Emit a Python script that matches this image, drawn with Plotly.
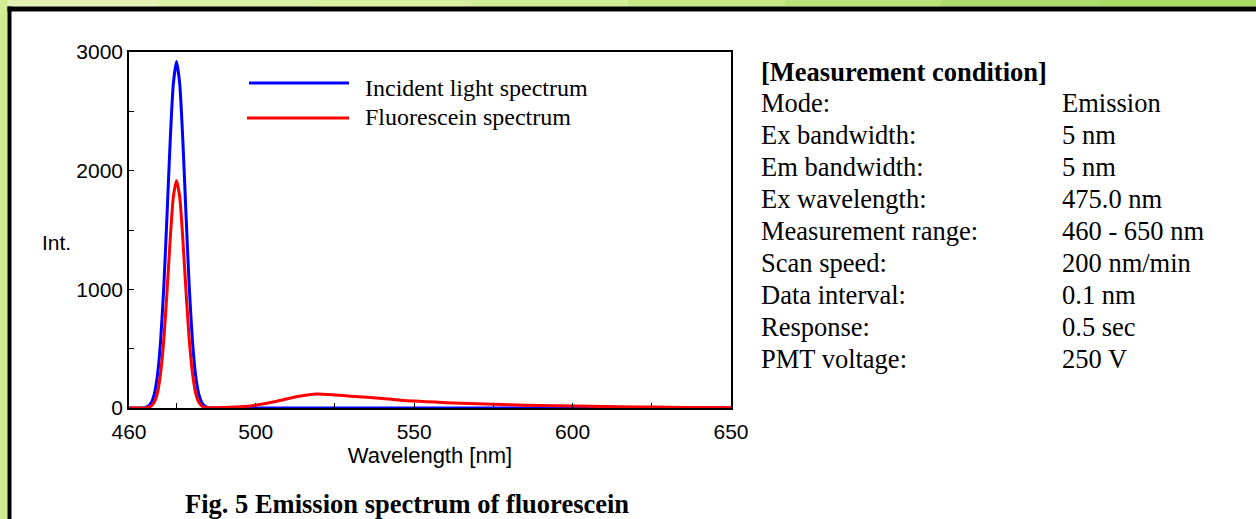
import plotly.graph_objects as go

# --- data (wavelength in nm, intensity) ---
incident_nm = [460, 464, 465, 466, 467, 468, 469, 470, 471, 472, 473, 474, 475,
               476, 477, 478, 479, 480, 481, 482, 483, 484, 485, 490, 550, 600, 650]
incident_int = [0, 0, 3, 15, 45, 120, 280, 575, 1030, 1625, 2250, 2735, 2920,
                2735, 2250, 1625, 1030, 575, 280, 120, 45, 15, 3, 0, 0, 0, 0]

fluor_nm = [460, 465, 466, 467, 468, 469, 470, 471, 472, 473, 474, 475, 476, 477,
            478, 479, 480, 481, 482, 483, 484, 486, 490, 495, 500, 505, 510, 515,
            519, 525, 530, 540, 550, 560, 570, 580, 590, 600, 610, 620, 630, 640, 650]
fluor_int = [0, 0, 5, 16, 50, 130, 300, 580, 980, 1420, 1780, 1915, 1780, 1420,
             980, 580, 300, 130, 50, 16, 5, 2, 4, 10, 24, 48, 78, 105,
             118, 110, 100, 80, 58, 45, 35, 27, 21, 16, 12, 9, 6, 4, 3]

x_ticks = [460, 500, 550, 600, 650]
x_minor = [475, 500, 525, 550, 575, 600, 625]
y_ticks = [0, 1000, 2000, 3000]

legend_names = ["Incident light spectrum", "Fluorescein spectrum"]
condition_labels = ["Mode:", "Ex bandwidth:", "Em bandwidth:", "Ex wavelength:",
                    "Measurement range:", "Scan speed:", "Data interval:",
                    "Response:", "PMT voltage:"]
condition_values = ["Emission", "5 nm", "5 nm", "475.0 nm", "460 - 650 nm",
                    "200 nm/min", "0.1 nm", "0.5 sec", "250 V"]

W, H = 1256, 519
L, R, T, B = 129, 731, 52, 408  # plot area in pixels


def px(x):
    return (x - L) / (R - L)


def py(y):
    return (B - y) / (B - T)


fig = go.Figure()
fig.add_trace(go.Scatter(x=incident_nm, y=incident_int, mode="lines",
                         line=dict(color="#0000ff", width=3, shape="spline", smoothing=0.6),
                         showlegend=False))
fig.add_trace(go.Scatter(x=fluor_nm, y=fluor_int, mode="lines",
                         line=dict(color="#ff0000", width=3, shape="spline", smoothing=0.6),
                         showlegend=False))

shapes = []
# green frame strip (simple left-to-right gradient)
greens = ["#e2f2b4", "#dcf0a8", "#d8f0a0", "#d2ee94", "#c6e886", "#bae278", "#aedd6c", "#a8da66"]
seg = W / len(greens)
for i, c in enumerate(greens):
    shapes.append(dict(type="rect", xref="paper", yref="paper",
                       x0=px(i * seg), x1=px((i + 1) * seg + 1), y0=py(0), y1=py(6.5),
                       fillcolor=c, line_width=0, layer="below"))
shapes.append(dict(type="rect", xref="paper", yref="paper", x0=px(0), x1=px(7.5),
                   y0=py(0), y1=py(H), fillcolor="#cfeb90", line_width=0, layer="below"))
# black border lines
shapes.append(dict(type="rect", xref="paper", yref="paper", x0=px(7.5), x1=px(W),
                   y0=py(6.5), y1=py(11.5), fillcolor="#000000", line_width=0))
shapes.append(dict(type="rect", xref="paper", yref="paper", x0=px(7.5), x1=px(11.5),
                   y0=py(6.5), y1=py(H), fillcolor="#000000", line_width=0))
# legend samples
shapes.append(dict(type="line", xref="paper", yref="paper", x0=px(249), x1=px(349),
                   y0=py(83), y1=py(83), line=dict(color="#0000ff", width=3)))
shapes.append(dict(type="line", xref="paper", yref="paper", x0=px(247), x1=px(349),
                   y0=py(118), y1=py(118), line=dict(color="#ff0000", width=3)))

serif = "Liberation Serif, Times New Roman, serif"
sans = "Liberation Sans, Arial, sans-serif"

annotations = []
for name, yy in zip(legend_names, [88, 117]):
    annotations.append(dict(text=name, xref="paper", yref="paper", x=px(363), y=py(yy),
                            xanchor="left", yanchor="middle", showarrow=False,
                            font=dict(family=serif, size=24, color="black")))

annotations.append(dict(text="<b>[Measurement condition]</b>", xref="paper", yref="paper",
                        x=px(759), y=py(72), xanchor="left", yanchor="middle", showarrow=False,
                        font=dict(family=serif, size=26.5, color="black")))
for i, (lab, val) in enumerate(zip(condition_labels, condition_values)):
    yy = 103 + 32 * i
    annotations.append(dict(text=lab, xref="paper", yref="paper", x=px(759), y=py(yy),
                            xanchor="left", yanchor="middle", showarrow=False,
                            font=dict(family=serif, size=26.5, color="black")))
    annotations.append(dict(text=val, xref="paper", yref="paper", x=px(1060), y=py(yy),
                            xanchor="left", yanchor="middle", showarrow=False,
                            font=dict(family=serif, size=26.5, color="black")))

annotations.append(dict(text="Int.", xref="paper", yref="paper", x=px(40), y=py(243),
                        xanchor="left", yanchor="middle", showarrow=False,
                        font=dict(family=sans, size=21, color="black")))
annotations.append(dict(text="<b>Fig. 5 Emission spectrum of fluorescein</b>", xref="paper",
                        yref="paper", x=px(407), y=py(504), xanchor="center", yanchor="middle",
                        showarrow=False, font=dict(family=serif, size=26.5, color="black")))

fig.update_layout(
    width=W, height=H,
    margin=dict(l=L, r=W - R, t=T, b=H - B),
    paper_bgcolor="white", plot_bgcolor="white",
    shapes=shapes, annotations=annotations,
    xaxis=dict(range=[460, 650], tickvals=x_ticks, ticks="inside", ticklen=5,
               tickcolor="black", showgrid=False, zeroline=False,
               showline=True, linecolor="black", linewidth=1.5, mirror=True,
               minor=dict(tickvals=x_minor, ticks="inside", ticklen=5, tickcolor="black"),
               ticklabelstandoff=4,
               tickfont=dict(family=sans, size=21, color="black"),
               title=dict(text="Wavelength [nm]", standoff=6,
                          font=dict(family=sans, size=22, color="black"))),
    yaxis=dict(range=[0, 3000], tickvals=y_ticks, ticks="inside", ticklen=5,
               tickcolor="black", showgrid=False, zeroline=False,
               showline=True, linecolor="black", linewidth=1.5, mirror=True,
               minor=dict(dtick=500, ticks="inside", ticklen=5, tickcolor="black"),
               tickfont=dict(family=sans, size=21, color="black")),
)

# drop the page's default body margin so the figure sits at the window's corner
fig.write_html("out.html", config={"displayModeBar": False},
               post_script="document.body.style.margin='0';")
